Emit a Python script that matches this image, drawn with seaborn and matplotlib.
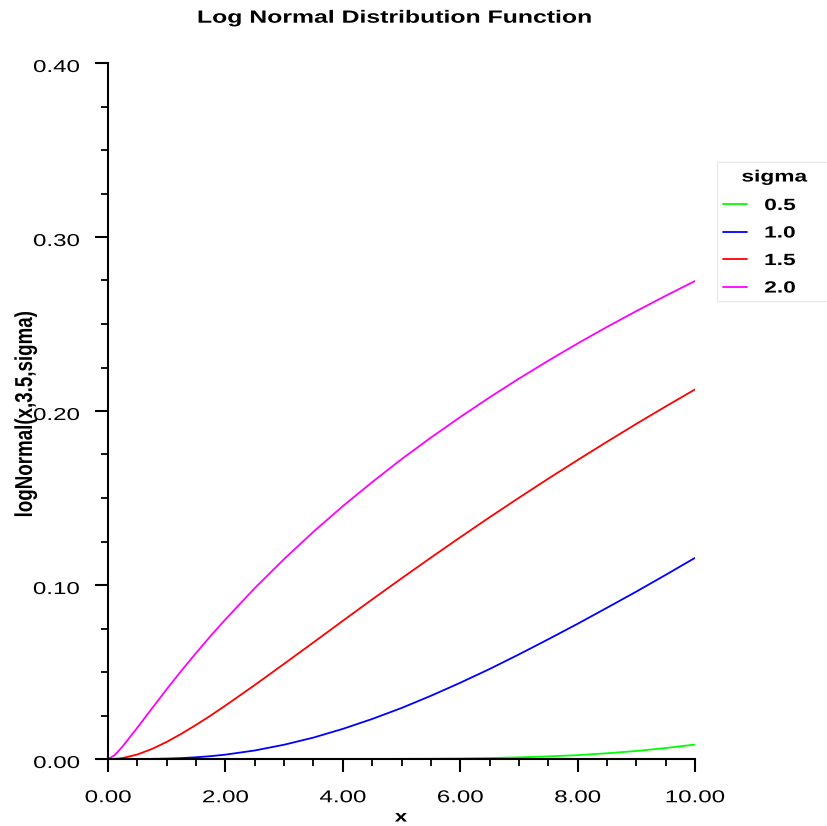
import numpy as np
import pandas as pd
import matplotlib
matplotlib.use("Agg")
import matplotlib.pyplot as plt
from matplotlib.ticker import MultipleLocator, FormatStrFormatter
from matplotlib.patheffects import AbstractPathEffect
from matplotlib.transforms import Affine2D
from matplotlib.patches import Rectangle
import seaborn as sns

x_vals = [0.0, 0.1, 0.15, 0.25, 0.5, 0.75, 1.0, 1.25, 1.5, 1.75, 2.0, 2.5, 3.0,
          3.5, 4.0, 4.5, 5.0, 5.5, 6.0, 6.5, 7.0, 7.5, 8.0, 8.5, 9.0, 9.5, 10.0]
sigma_labels = ["0.5", "1.0", "1.5", "2.0"]
y_s05 = [0.0, 0.0, 0.0, 0.0, 0.0, 0.0, 0.0, 0.0, 0.0, 0.0, 0.0, 0.0, 0.0,
         0.0, 0.00001, 0.00003, 0.00008, 0.00017, 0.00032, 0.00056, 0.00094,
         0.0015, 0.0022, 0.0033, 0.0046, 0.0063, 0.0083]
y_s10 = [0.0, 0.0, 0.0, 0.0, 0.00001, 0.00008, 0.00023, 0.00052, 0.00099, 0.00164,
         0.0025, 0.0049, 0.0082, 0.0123, 0.0173, 0.0230, 0.0293, 0.0363, 0.0438,
         0.0517, 0.0601, 0.0688, 0.0777, 0.0869, 0.0962, 0.1058, 0.1156]
y_s15 = [0.0, 0.00005, 0.00016, 0.00056, 0.00259, 0.00578, 0.00982, 0.0145, 0.0196,
         0.0250, 0.0307, 0.0425, 0.0547, 0.0670, 0.0794, 0.0917, 0.1038, 0.1157,
         0.1274, 0.1389, 0.1501, 0.1611, 0.1718, 0.1823, 0.1926, 0.2026, 0.2124]
y_s20 = [0.0, 0.00187, 0.0035, 0.00728, 0.0180, 0.0291, 0.0401, 0.0507, 0.0609,
         0.0708, 0.0802, 0.0982, 0.1149, 0.1306, 0.1453, 0.1591, 0.1723, 0.1847,
         0.1965, 0.2078, 0.2186, 0.2289, 0.2388, 0.2483, 0.2574, 0.2662, 0.2747]
colors = {"0.5": "#00FF00", "1.0": "#0000FF", "1.5": "#FF0000", "2.0": "#FF00FF"}

frames = []
for lab, ys in zip(sigma_labels, [y_s05, y_s10, y_s15, y_s20]):
    frames.append(pd.DataFrame({"x": x_vals, "y": ys, "sigma": lab}))
df = pd.concat(frames, ignore_index=True)


class Stretch(AbstractPathEffect):
    """Widen glyphs horizontally (the reference text is drawn wide)."""
    def __init__(self, sx=1.4, anchor="center", dx=0.0, dy=0.0):
        super().__init__()
        self.sx, self.anchor, self.dx, self.dy = sx, anchor, dx, dy

    def draw_path(self, renderer, gc, tpath, affine, rgbFace=None):
        ext = tpath.get_extents(affine)
        if self.anchor == "left":
            x0 = ext.x0
        elif self.anchor == "right":
            x0 = ext.x1
        else:
            x0 = 0.5 * (ext.x0 + ext.x1)
        t = affine + Affine2D().translate(-x0, 0).scale(self.sx, 1.0).translate(x0 + self.dx, self.dy)
        renderer.draw_path(gc, tpath, t, rgbFace)


sns.set_theme(style="white")
plt.rcParams['font.family'] = ['Liberation Sans', 'DejaVu Sans']
plt.rcParams['text.color'] = 'black'
plt.rcParams['axes.labelcolor'] = 'black'

fig = plt.figure(figsize=(8.28, 8.26), dpi=100)
ax = fig.add_axes([108/828, 1-759/826, (695-108)/828, (759-63)/826])

sns.lineplot(data=df, x="x", y="y", hue="sigma", hue_order=sigma_labels,
             palette=colors, linewidth=1.3, legend=False, ax=ax)

ax.set_xlim(0, 10)
ax.set_ylim(0, 0.4)
ax.xaxis.set_major_locator(MultipleLocator(2))
ax.xaxis.set_minor_locator(MultipleLocator(0.5))
ax.yaxis.set_major_locator(MultipleLocator(0.1))
ax.yaxis.set_minor_locator(MultipleLocator(0.025))
ax.xaxis.set_major_formatter(FormatStrFormatter("%.2f"))
ax.yaxis.set_major_formatter(FormatStrFormatter("%.2f"))

for s in ["top", "right"]:
    ax.spines[s].set_visible(False)
for s in ["left", "bottom"]:
    ax.spines[s].set_color("black")
    ax.spines[s].set_linewidth(1.5)

ax.tick_params(axis="both", which="major", direction="out", length=9.5, width=1.5,
               color="black", labelsize=12.4, labelcolor="black")
ax.tick_params(axis="both", which="minor", direction="out", length=5, width=1.3,
               color="black")
ax.tick_params(axis="x", which="major", pad=13)
ax.tick_params(axis="y", which="major", pad=11)
ax.tick_params(axis="both", which="both", bottom=True, left=True)

ax.set_xlabel("x", fontsize=11.5, fontweight="bold")
ax.xaxis.set_label_coords((401-108)/587, (759-809.5)/696)
ax.set_ylabel("logNormal(x,3.5,sigma)", fontsize=13.5, fontweight="bold")
ax.yaxis.set_label_coords((34.5-108)/587, (759-414.5)/696)
ax.set_title("Log Normal Distribution Function", fontsize=12.75, fontweight="bold",
             x=(395-108)/587, y=(759-22.7)/696, pad=0, color="black")
ax.title.set_va("baseline")

handles = ax.lines[:4]
leg = fig.legend(handles, sigma_labels, title="sigma",
                 loc="upper left", bbox_to_anchor=(717/828, 1-164/826),
                 frameon=False, fontsize=11.7, title_fontsize=11.7,
                 handlelength=1.42, handletextpad=1.1, labelspacing=0.77,
                 borderpad=0.4, borderaxespad=0)
leg.get_title().set_fontweight("bold")
for t in leg.get_texts():
    t.set_fontweight("bold")
fig.add_artist(Rectangle((717/828, 1-301/826), (835-717)/828, (301-162)/826,
                         transform=fig.transFigure, facecolor="none",
                         edgecolor="#e8e8e8", linewidth=1.0))

fig.canvas.draw()
SX = 1.4
for lab in ax.get_xticklabels():
    lab.set_path_effects([Stretch(SX, "center")])
for lab in ax.get_yticklabels():
    lab.set_path_effects([Stretch(SX, "right", dy=-3)])
ax.xaxis.label.set_path_effects([Stretch(SX, "center")])
ax.yaxis.label.set_path_effects([Stretch(1.3, "center")])
ax.title.set_path_effects([Stretch(SX, "center")])
for t in leg.get_texts():
    t.set_path_effects([Stretch(SX, "left")])
leg.get_title().set_path_effects([Stretch(SX, "center", dx=19, dy=1)])

fig.savefig("out.png", dpi=100)
